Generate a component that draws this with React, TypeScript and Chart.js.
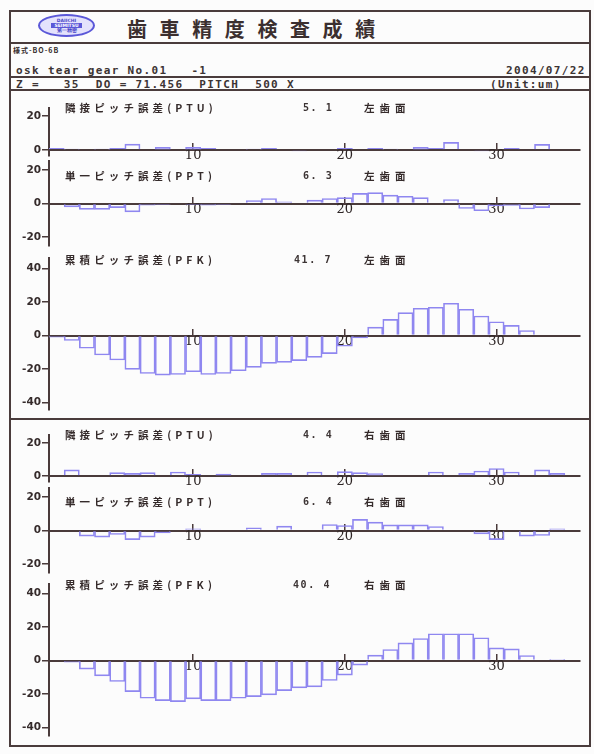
import React, { useEffect, useRef } from "react";
import { Chart, registerables } from "chart.js";

Chart.register(...registerables);

// ---- data ----
const TEETH = [1, 2, 3, 4, 5, 6, 7, 8, 9, 10, 11, 12, 13, 14, 15, 16, 17, 18, 19, 20, 21, 22, 23, 24, 25, 26, 27, 28, 29, 30, 31, 32, 33, 34, 35];

const PTU_LEFT = [1, 0.5, 0, 0.5, 1, 3.5, 0, 1.5, 0, 1.5, 1, 0, 0, 0.5, 1, 0, -0.5, 0, 0, 1, 0, 1, 0.5, 0, 1.5, 1, 4.5, 0, -0.5, 0, 1, 0, 3.3, 0, 0];
const PPT_LEFT = [0, -2, -3.5, -3.5, -2.5, -5, -1, -0.5, 0, -0.5, -1, -0.5, 0, 1.8, 3, 1, 0, 2, 3, 3.5, 6, 6.5, 5, 4.3, 3.5, 0, 2.4, -3, -4.3, -1.4, -1.2, -3.3, -2.5, 0, 0];
const PFK_LEFT = [-1, -3, -7.6, -11.6, -14.6, -20.2, -22.6, -23.6, -23.2, -21.6, -23.2, -22.6, -21, -19, -16.6, -16, -15, -13, -10.8, -6.4, -1.4, 5, 9.6, 13.6, 16.2, 16.8, 19.2, 15.6, 11.6, 8.2, 6, 3, 0, 0, 0];

const PTU_RIGHT = [0, 3.7, 0, 0, 2, 1.6, 2, 0, 2.4, 1, 0, 1.2, 0, 0, 1.6, 1.6, 0, 2.4, 0, 2.6, 2, 1.4, 0, 0, 0, 2.4, 0, 1.6, 3, 4.5, 2.4, 0, 3.7, 1.6, 0];
const PPT_RIGHT = [0, 0, -3.4, -4, -2.4, -5.4, -4, -1.4, 0, 1, 0, 0, 0, 1.6, 0, 2.6, 0, 0, 3.6, 3, 6.6, 5, 3.4, 3.4, 3.4, 2.4, 0, 0, -2, -5.4, 0, -3.4, -3, 1, 0];
const PFK_RIGHT = [0, -1, -5.2, -9.2, -12.6, -18.6, -22.6, -24, -24.6, -23, -24, -24, -22.6, -21.6, -20.6, -18, -16.4, -15.8, -12, -8.8, -2.8, 3.2, 6.6, 10.6, 13.2, 16, 16, 16, 13.6, 7.6, 7, 3, 0, 0.5, 0];

const X_TICKS = [10, 20, 30];
const Y_TICKS_PTU = [0, 20];
const Y_TICKS_PPT = [-20, 0, 20];
const Y_TICKS_PFK = [-40, -20, 0, 20, 40];

const NAMES = ["隣接ピッチ誤差(PTU)", "単一ピッチ誤差(PPT)", "累積ピッチ誤差(PFK)"];
const VALUES_LEFT = ["5. 1", "6. 3", "41. 7"];
const VALUES_RIGHT = ["4. 4", "6. 4", "40. 4"];
const FLANK_LEFT = "左歯面";
const FLANK_RIGHT = "右歯面";

// ---- styles / layout ----
const LINE = "#4a3c3c";
const AXIS = "#4a3b3b";
const BAR = "#8f87f0";
const TEXT = "#352b2b";
const PAD = 10;

type PanelCfg = {
  values: number[];
  min: number;
  max: number;
  ticks: number[];
  zero: number;
  k: number;
  name: string;
  value: string;
  flank: string;
  labelY: number;
  valueX: number;
};

const PANELS: PanelCfg[] = [
  { values: PTU_LEFT, min: -3.5, max: 25, ticks: Y_TICKS_PTU, zero: 150, k: 1.7, name: NAMES[0], value: VALUES_LEFT[0], flank: FLANK_LEFT, labelY: 108, valueX: 303 },
  { values: PPT_LEFT, min: -25, max: 25.5, ticks: Y_TICKS_PPT, zero: 203.5, k: 1.68, name: NAMES[1], value: VALUES_LEFT[1], flank: FLANK_LEFT, labelY: 176, valueX: 303 },
  { values: PFK_LEFT, min: -44, max: 46, ticks: Y_TICKS_PFK, zero: 335.5, k: 1.68, name: NAMES[2], value: VALUES_LEFT[2], flank: FLANK_LEFT, labelY: 260, valueX: 294 },
  { values: PTU_RIGHT, min: -3.5, max: 25, ticks: Y_TICKS_PTU, zero: 476, k: 1.66, name: NAMES[0], value: VALUES_RIGHT[0], flank: FLANK_RIGHT, labelY: 435, valueX: 303 },
  { values: PPT_RIGHT, min: -25, max: 25.5, ticks: Y_TICKS_PPT, zero: 530.5, k: 1.675, name: NAMES[1], value: VALUES_RIGHT[1], flank: FLANK_RIGHT, labelY: 502, valueX: 303 },
  { values: PFK_RIGHT, min: -45, max: 46, ticks: Y_TICKS_PFK, zero: 660.5, k: 1.67, name: NAMES[2], value: VALUES_RIGHT[2], flank: FLANK_RIGHT, labelY: 585, valueX: 293 },
];

function Panel({ cfg }: { cfg: PanelCfg }) {
  const ref = useRef<HTMLCanvasElement>(null);
  const top = cfg.zero - cfg.max * cfg.k;
  const bottom = cfg.zero - cfg.min * cfg.k;
  const cTop = Math.floor(top) - PAD;
  const cBottom = Math.ceil(bottom) + PAD;
  const h = cBottom - cTop;
  const padTop = top - cTop;
  const padBottom = cBottom - bottom;

  useEffect(() => {
    if (!ref.current) return;
    const chart = new Chart(ref.current, {
      type: "bar",
      data: {
        datasets: [
          {
            data: cfg.values.map((v, i) => ({ x: TEETH[i], y: v })),
            borderColor: BAR,
            borderWidth: 1,
            backgroundColor: "rgba(0,0,0,0)",
            barPercentage: 1,
            categoryPercentage: 1,
          },
        ],
      },
      options: {
        animation: false,
        responsive: false,
        maintainAspectRatio: false,
        events: [],
        layout: { padding: { top: padTop, bottom: padBottom, left: 0, right: 10 } },
        plugins: { legend: { display: false }, tooltip: { enabled: false }, title: { display: false } },
        scales: {
          x: {
            type: "linear",
            min: 0.5,
            max: 35.5,
            offset: false,
            position: { y: 0 },
            z: 1,
            afterBuildTicks: (s: any) => {
              s.ticks = X_TICKS.map((v) => ({ value: v }));
            },
            grid: { display: true, offset: false, drawOnChartArea: false, drawTicks: true, tickLength: -8, color: AXIS, lineWidth: 1.5 },
            border: { display: true, color: AXIS, width: 2 },
            ticks: {
              padding: 6,
              autoSkip: false,
              maxRotation: 0,
              color: "#2e2626",
              font: { family: "'DejaVu Serif'", size: 13 },
            },
          },
          y: {
            type: "linear",
            min: cfg.min,
            max: cfg.max,
            z: 1,
            afterBuildTicks: (s: any) => {
              s.ticks = cfg.ticks.map((v) => ({ value: v }));
            },
            afterFit: (s: any) => {
              s.width = 39;
            },
            grid: { display: true, drawOnChartArea: false, drawTicks: true, tickLength: 7, color: AXIS, lineWidth: 1.5 },
            border: { display: true, color: AXIS, width: 2 },
            ticks: {
              padding: 1,
              color: TEXT,
              font: { family: "'DejaVu Sans'", size: 10.5, weight: "bold" },
            },
          },
        },
      },
    } as any);
    return () => chart.destroy();
  }, []);

  return (
    <canvas
      ref={ref}
      width={580}
      height={h}
      style={{ position: "absolute", left: 10, top: cTop, width: 580, height: h }}
    />
  );
}

const abs = (extra: React.CSSProperties): React.CSSProperties => ({ position: "absolute", ...extra });

const MONO: React.CSSProperties = {
  fontFamily: "'DejaVu Sans Mono', monospace",
  fontWeight: "bold",
  fontSize: 11,
  letterSpacing: 1.35,
  lineHeight: "12px",
  color: "#3c3434",
  whiteSpace: "pre",
};

const LABEL: React.CSSProperties = {
  fontFamily: "'Noto Sans CJK JP', sans-serif",
  fontWeight: "bold",
  fontSize: 10.5,
  letterSpacing: 4.1,
  lineHeight: "14px",
  color: TEXT,
  whiteSpace: "pre",
};

function HLine({ y, w = 2 }: { y: number; w?: number }) {
  return <div style={abs({ left: 10, top: y - w / 2, width: 580, height: w, background: LINE })} />;
}

export default function App() {
  return (
    <div style={abs({ left: 0, top: 0, width: 594, height: 754, background: "#fcfcfc", overflow: "hidden" })}>
      {/* outer frame */}
      <div style={abs({ left: 9, top: 10, width: 582, height: 737, border: `2px solid ${LINE}`, boxSizing: "border-box" })} />
      <HLine y={43} />
      <HLine y={77} />
      <HLine y={90} />
      <HLine y={419} />

      {/* logo */}
      <div
        style={abs({
          left: 38,
          top: 14,
          width: 57,
          height: 23,
          borderRadius: "50%",
          border: "2px solid #5b58d8",
          boxSizing: "border-box",
          background: "#e4e2fc",
          display: "flex",
          flexDirection: "column",
          alignItems: "center",
          justifyContent: "center",
          color: "#4a47c8",
          fontFamily: "'DejaVu Sans', sans-serif",
          fontWeight: "bold",
          fontSize: 4.5,
          lineHeight: "5px",
        })}
      >
        <div>DAIICHI</div>
        <div style={{ background: "#5b58d8", color: "#ffffff", padding: "0 3px" }}>SEIMITSU</div>
        <div>第一精密</div>
      </div>

      {/* title */}
      <div
        style={abs({
          left: 127,
          top: 16,
          fontFamily: "'Noto Sans CJK JP', sans-serif",
          fontWeight: "bold",
          fontSize: 20,
          letterSpacing: 12.6,
          lineHeight: "26px",
          color: "#3b2f2f",
          whiteSpace: "pre",
        })}
      >
        歯車精度検査成績
      </div>

      <div style={abs({ left: 13, top: 45, fontFamily: "'Noto Sans CJK JP', sans-serif", fontWeight: "bold", fontSize: 7, letterSpacing: 1, lineHeight: "10px", color: TEXT })}>
        様式-BO-6B
      </div>

      <div style={abs({ ...MONO, left: 16, top: 65 })}>{"osk tear gear No.01   -1"}</div>
      <div style={abs({ ...MONO, left: 506, top: 65 })}>2004/07/22</div>
      <div style={abs({ ...MONO, left: 16, top: 79 })}>{"Z =   35  DO = 71.456  PITCH  500 X"}</div>
      <div style={abs({ ...MONO, left: 490, top: 79 })}>(Unit:um)</div>

      {PANELS.map((p, i) => (
        <Panel key={i} cfg={p} />
      ))}

      {PANELS.map((p, i) => (
        <React.Fragment key={"t" + i}>
          <div style={abs({ ...LABEL, left: 65, top: p.labelY - 7 })}>{p.name}</div>
          <div style={abs({ ...MONO, fontSize: 10, letterSpacing: 1.6, left: p.valueX, top: p.labelY - 6 })}>{p.value}</div>
          <div style={abs({ ...LABEL, letterSpacing: 5, left: 364, top: p.labelY - 7 })}>{p.flank}</div>
        </React.Fragment>
      ))}
    </div>
  );
}
